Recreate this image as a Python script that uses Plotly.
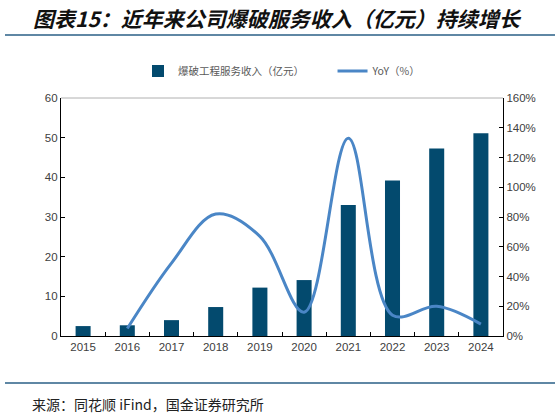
import plotly.graph_objects as go

# 数据
years = ['2015', '2016', '2017', '2018', '2019', '2020', '2021', '2022', '2023', '2024']
revenue = [2.5, 2.7, 4.0, 7.3, 12.2, 14.1, 33.0, 39.2, 47.3, 51.1]
yoy = [None, 5, 49, 82, 67, 16, 133, 14, 20, 8]

W, H = 559, 416
L, R, T, B = 61, 503, 98, 336


def px_x(x):
    return (x - L) / (R - L)


def px_y(y):
    return (B - y) / (B - T)


fig = go.Figure()

fig.add_trace(go.Bar(
    x=years, y=revenue, name='爆破工程服务收入（亿元）          ',
    marker=dict(color='#034a6e', line=dict(width=0)),
    width=0.34
))

fig.add_trace(go.Scatter(
    x=years, y=yoy, name='YoY（%）', yaxis='y2', mode='lines',
    line=dict(color='#4a86c6', width=3, shape='spline', smoothing=1.0),
    connectgaps=False
))

tick_font = dict(family='Liberation Sans, Arial', size=11.5, color='#404040')

fig.update_layout(
    width=W, height=H,
    margin=dict(l=L, r=W - R, t=T, b=H - B, autoexpand=False),
    paper_bgcolor='white',
    plot_bgcolor='white',
    bargap=0.66,
    showlegend=True,
    legend=dict(
        orientation='h', x=0.5, xanchor='center', y=px_y(71), yanchor='middle',
        font=dict(family='Noto Sans CJK SC', size=10.5, color='#595959'),
        itemwidth=30, tracegroupgap=0, bgcolor='rgba(0,0,0,0)'
    ),
    xaxis=dict(
        type='category', showline=True, linecolor='black', linewidth=1.2,
        ticks='inside', tickson='boundaries', ticklen=4, tickcolor='black',
        tickfont=tick_font, showgrid=False, zeroline=False
    ),
    yaxis=dict(
        range=[0, 60], dtick=10, showline=True, linecolor='black', linewidth=1.2,
        ticks='inside', ticklen=4, tickcolor='black', tickfont=tick_font,
        showgrid=False, zeroline=False
    ),
    yaxis2=dict(
        range=[0, 160], dtick=20, ticksuffix='%', overlaying='y', side='right',
        showline=True, linecolor='black', linewidth=1.2,
        ticks='inside', ticklen=4, tickcolor='black', tickfont=tick_font,
        showgrid=False, zeroline=False
    ),
    annotations=[
        dict(text='<b><i>图表15：近年来公司爆破服务收入（亿元）持续增长</i></b>',
             xref='paper', yref='paper', x=px_x(31), y=px_y(18),
             xanchor='left', yanchor='middle', showarrow=False,
             font=dict(family='Noto Sans CJK SC', size=21, color='#111111')),
        dict(text='来源：同花顺 iFind，国金证券研究所',
             xref='paper', yref='paper', x=px_x(30), y=px_y(404),
             xanchor='left', yanchor='middle', showarrow=False,
             font=dict(family='Noto Sans CJK SC', size=14, color='#222222')),
    ],
    shapes=[
        dict(type='line', xref='paper', yref='paper', x0=px_x(5), x1=px_x(555),
             y0=px_y(35), y1=px_y(35), line=dict(color='#2a5f86', width=1.5)),
        dict(type='line', xref='paper', yref='paper', x0=px_x(5), x1=px_x(555),
             y0=px_y(383), y1=px_y(383), line=dict(color='#2a5f86', width=1.5)),
        dict(type='line', xref='paper', yref='paper', x0=0, x1=1,
             y0=1, y1=1, line=dict(color='#b0b0b0', width=1)),
    ]
)

# 去掉页面默认的 8px 边距
fig.write_html("out.html", config={'displayModeBar': False},
               post_script="document.body.style.margin='0';")
